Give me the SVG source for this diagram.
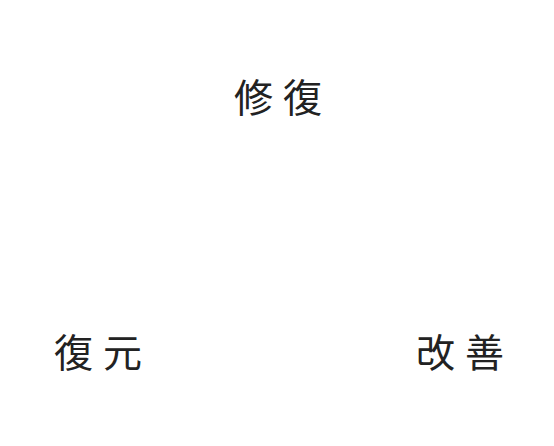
<svg xmlns="http://www.w3.org/2000/svg" width="554" height="446" viewBox="0 0 554 446">
<style>
.t{font-family:"Noto Sans CJK JP","Noto Sans CJK SC",sans-serif;font-size:39px;font-weight:400;fill:#222222;letter-spacing:10px}
</style>
<rect width="554" height="446" fill="#ffffff"/>
<g id="connectors"></g>
<g id="node-shufuku"><text class="t" x="234" y="112">修復</text></g>
<g id="node-fukugen"><text class="t" x="54" y="367">復元</text></g>
<g id="node-kaizen"><text class="t" x="416" y="367">改善</text></g>
</svg>
